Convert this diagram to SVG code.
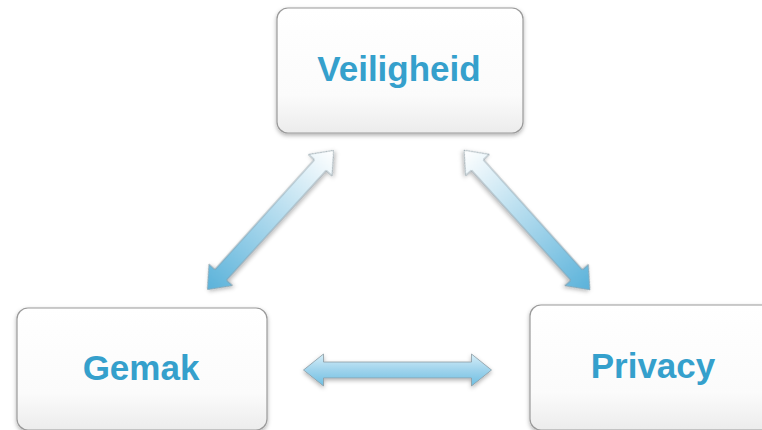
<svg xmlns="http://www.w3.org/2000/svg" width="762" height="430" viewBox="0 0 762 430">
<defs>
<linearGradient id="boxg" x1="0" y1="0" x2="0" y2="1">
<stop offset="0" stop-color="#ffffff"/>
<stop offset="0.7" stop-color="#fbfbfb"/>
<stop offset="1" stop-color="#ececec"/>
</linearGradient>
<linearGradient id="diagA" x1="0" y1="0" x2="1" y2="0">
<stop offset="0" stop-color="#5ab2da"/>
<stop offset="1" stop-color="#ffffff"/>
</linearGradient>
<linearGradient id="diagB" x1="0" y1="0" x2="1" y2="0">
<stop offset="0" stop-color="#ffffff"/>
<stop offset="1" stop-color="#5ab2da"/>
</linearGradient>
<linearGradient id="horz" x1="0" y1="0" x2="0" y2="1">
<stop offset="0" stop-color="#d6eef8"/>
<stop offset="0.5" stop-color="#9fd3ec"/>
<stop offset="1" stop-color="#6ebfe2"/>
</linearGradient>
<filter id="sh" x="-10%" y="-10%" width="120%" height="130%">
<feDropShadow dx="0" dy="2" stdDeviation="2" flood-color="#000" flood-opacity="0.3"/>
</filter>
<polygon id="dbl" points="-94,0 -74,-16 -74,-8 74,-8 74,-16 94,0 74,16 74,8 -74,8 -74,16"/>
</defs>
<style>
.box { fill: url(#boxg); stroke: #9a9a9a; stroke-width: 1.2; filter: url(#sh); }
.lbl { font-family: "Liberation Sans", Arial, sans-serif; font-weight: bold; font-size: 35px; fill: #35a0cc; text-anchor: middle; }
.arr { stroke: #8a9aa2; stroke-width: 0.8; filter: url(#sh); }
</style>
<rect width="762" height="430" fill="#ffffff"/>
<g id="connectors">
<g transform="translate(270.5,220) rotate(-47.8)"><use href="#dbl" class="arr" fill="url(#diagA)"/></g>
<g transform="translate(527,220) rotate(48)"><use href="#dbl" class="arr" fill="url(#diagB)"/></g>
<g transform="translate(397.5,370)"><use href="#dbl" class="arr" fill="url(#horz)"/></g>
</g>
<g id="node-veiligheid">
<rect class="box" x="277" y="8" width="246" height="125" rx="11"/>
<text class="lbl" x="399" y="81">Veiligheid</text>
</g>
<g id="node-gemak">
<rect class="box" x="17" y="308" width="250" height="122" rx="11"/>
<text class="lbl" x="141" y="380">Gemak</text>
</g>
<g id="node-privacy">
<rect class="box" x="530" y="305" width="250" height="125" rx="11"/>
<text class="lbl" x="653" y="378">Privacy</text>
</g>
</svg>
